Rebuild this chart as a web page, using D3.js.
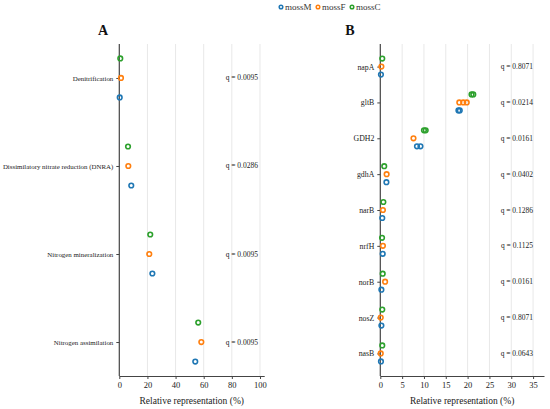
<!DOCTYPE html>
<html>
<head>
<meta charset="utf-8">
<script src="https://cdn.jsdelivr.net/npm/d3@7"></script>
<style>
  body { margin: 0; background: #fff; }
  svg text { font-family: "Liberation Serif", "DejaVu Serif", serif; }
  .axis path, .axis line { stroke: #444; }
  .axis text { fill: #222; }
</style>
</head>
<body>
<div id="chart"></div>
<script>
// series names / colours
const seriesNames = ['mossM', 'mossF', 'mossC'];
const seriesColors = ['#1f77b4', '#ff7f0e', '#2ca02c'];

// Panel A: pathways
const pathwaysA = ['Denitrification', 'Dissimilatory nitrate reduction (DNRA)', 'Nitrogen mineralization', 'Nitrogen assimilation'];
const qA = ['q = 0.0095', 'q = 0.0286', 'q = 0.0095', 'q = 0.0095'];
const mossM_A = [[0.3], [8.5], [23.5], [54.0]];
const mossF_A = [[1.2], [6.4], [21.3], [58.3]];
const mossC_A = [[0.7], [6.2], [22.0], [56.1]];
const ticksA = [0, 20, 40, 60, 80, 100];

// Panel B: genes
const genesB = ['napA', 'gltB', 'GDH2', 'gdhA', 'narB', 'nrfH', 'norB', 'nosZ', 'nasB'];
const qB = ['q = 0.8071', 'q = 0.0214', 'q = 0.0161', 'q = 0.0402', 'q = 0.1286', 'q = 0.1125', 'q = 0.0161', 'q = 0.8071', 'q = 0.0643'];
const mossM_B = [[0.15], [17.9, 18.2], [8.4, 9.2], [1.4], [0.45], [0.55], [0.25], [0.25], [0.15]];
const mossF_B = [[0.25], [18.1, 19.0, 19.8], [7.6], [1.45], [0.6], [0.6], [1.1], [0.1], [0.1]];
const mossC_B = [[0.45], [20.9, 21.3], [10.0, 10.4], [0.9], [0.7], [0.4], [0.55], [0.45], [0.45]];
const ticksB = [0, 5, 10, 15, 20, 25, 30, 35];

const W = 550, H = 409;
const svg = d3.select('#chart').append('svg')
  .attr('width', W).attr('height', H);

// legend
const legendX = [281, 318, 352];
const leg = svg.append('g');
seriesNames.forEach((name, i) => {
  leg.append('circle')
    .attr('cx', legendX[i]).attr('cy', 7).attr('r', 1.8)
    .attr('fill', 'none').attr('stroke', seriesColors[i]).attr('stroke-width', 1.5);
  leg.append('text')
    .attr('x', legendX[i] + 4).attr('y', 7)
    .attr('dominant-baseline', 'central')
    .attr('font-size', '9px').attr('fill', '#333')
    .text(name);
});

function panel(cfg) {
  const x = d3.scaleLinear().domain([0, cfg.xmax]).range([cfg.x0, cfg.x1]);
  const y = d3.scalePoint().domain(cfg.cats).range([44, 376]).padding(cfg.pad);
  const g = svg.append('g');

  // gridlines
  g.selectAll('line.grid')
    .data(cfg.ticks.filter(t => t > 0))
    .join('line')
    .attr('class', 'grid')
    .attr('x1', d => x(d)).attr('x2', d => x(d))
    .attr('y1', 44).attr('y2', 376)
    .attr('stroke', '#e8e8e8').attr('stroke-width', 1);

  // x axis
  const xa = g.append('g').attr('class', 'axis')
    .attr('transform', 'translate(0,376)')
    .call(d3.axisBottom(x).tickValues(cfg.ticks).tickSize(3).tickSizeOuter(0).tickPadding(3));
  xa.selectAll('text').attr('font-size', '8.5px');

  // y axis
  const ya = g.append('g').attr('class', 'axis')
    .attr('transform', `translate(${cfg.x0},0)`)
    .call(d3.axisLeft(y).tickSize(3).tickSizeOuter(0).tickPadding(3));
  ya.select('.domain').attr('d', `M0,44V376`).attr('stroke', '#555').attr('stroke-width', 1.2);
  ya.selectAll('text').attr('font-size', cfg.labelSize);
  xa.select('.domain').attr('stroke', '#555').attr('stroke-width', 1.2);

  // points
  cfg.series.forEach((vals, si) => {
    const off = cfg.offsets[si];
    const pts = [];
    vals.forEach((reps, ci) => reps.forEach(v => pts.push({ c: cfg.cats[ci], v })));
    g.selectAll(null).data(pts).join('circle')
      .attr('cx', d => x(d.v))
      .attr('cy', d => y(d.c) + off)
      .attr('r', 2.3)
      .attr('fill', 'none')
      .attr('stroke', seriesColors[si])
      .attr('stroke-width', 1.6);
  });

  // q values
  g.selectAll('text.q').data(cfg.q).join('text')
    .attr('class', 'q')
    .attr('x', cfg.qx)
    .attr('y', (d, i) => y(cfg.cats[i]))
    .attr('text-anchor', 'end')
    .attr('dominant-baseline', 'central')
    .attr('font-size', '7.5px').attr('fill', '#222')
    .text(d => d);

  // titles
  const cx = (cfg.x0 + cfg.x1) / 2;
  svg.append('text')
    .attr('x', cfg.titleX).attr('y', 35)
    .attr('text-anchor', 'middle')
    .attr('font-size', '14px').attr('font-weight', 'bold').attr('fill', '#111')
    .text(cfg.title);
  svg.append('text')
    .attr('x', cx).attr('y', 401)
    .attr('text-anchor', 'middle')
    .attr('dominant-baseline', 'central')
    .attr('font-size', '9.5px').attr('fill', '#222')
    .text('Relative representation (%)');
}

panel({
  title: 'A', titleX: 103,
  cats: pathwaysA, q: qA, ticks: ticksA, xmax: 103,
  x0: 119.3, x1: 264.2, pad: 0.386, qx: 258, labelSize: '6.9px',
  series: [mossM_A, mossF_A, mossC_A], offsets: [19.5, 0, -19.5]
});

panel({
  title: 'B', titleX: 350,
  cats: genesB, q: qB, ticks: ticksB, xmax: 37.5,
  x0: 380.3, x1: 544, pad: 0.63, qx: 533, labelSize: '7.8px',
  series: [mossM_B, mossF_B, mossC_B], offsets: [8, 0, -8]
});
</script>
</body>
</html>
